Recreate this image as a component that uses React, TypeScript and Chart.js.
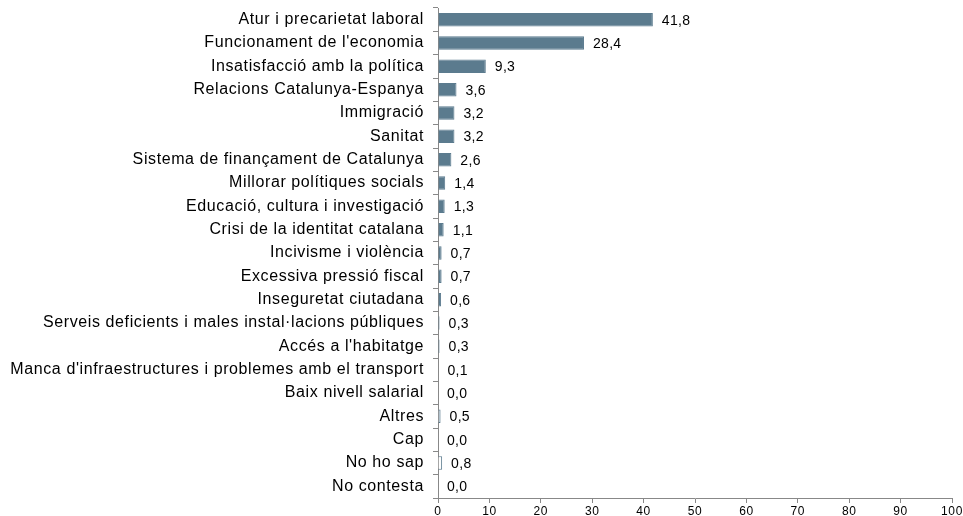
import React, { useEffect, useRef } from "react";
import { Chart, registerables } from "chart.js";

Chart.register(...registerables);

const categories = [
  "Atur i precarietat laboral",
  "Funcionament de l'economia",
  "Insatisfacció amb la política",
  "Relacions Catalunya-Espanya",
  "Immigració",
  "Sanitat",
  "Sistema de finançament de Catalunya",
  "Millorar polítiques socials",
  "Educació, cultura i investigació",
  "Crisi de la identitat catalana",
  "Incivisme i violència",
  "Excessiva pressió fiscal",
  "Inseguretat ciutadana",
  "Serveis deficients i males instal·lacions públiques",
  "Accés a l'habitatge",
  "Manca d'infraestructures i problemes amb el transport",
  "Baix nivell salarial",
  "Altres",
  "Cap",
  "No ho sap",
  "No contesta",
];

const values = [41.8, 28.4, 9.3, 3.6, 3.2, 3.2, 2.6, 1.4, 1.3, 1.1, 0.7, 0.7, 0.6, 0.3, 0.3, 0.1, 0.0, 0.5, 0.0, 0.8, 0.0];

const xTicks = [0, 10, 20, 30, 40, 50, 60, 70, 80, 90, 100];

const MAIN = "#5b7b8e";
const LIGHT = "#aebfcc";
const FONT = "'Liberation Sans', Arial, sans-serif";

const fillColors = categories.map((c) =>
  c === "Altres" ? LIGHT : c === "No ho sap" || c === "No contesta" || c === "Cap" ? "#ffffff" : MAIN
);

const spacing = {
  id: "spacing",
  beforeDraw(chart: any) {
    (chart.ctx as any).letterSpacing = "0.6px";
  },
};

const valueLabels = {
  id: "valueLabels",
  afterDatasetsDraw(chart: any) {
    const ctx = chart.ctx;
    const meta = chart.getDatasetMeta(0);
    ctx.save();
    ctx.letterSpacing = "0.3px";
    ctx.font = "14px " + FONT;
    ctx.fillStyle = "#000";
    ctx.textAlign = "left";
    ctx.textBaseline = "middle";
    meta.data.forEach((bar: any, i: number) => {
      const v = values[i];
      ctx.fillText(v.toFixed(1).replace(".", ","), bar.x + 9, bar.y + 1);
    });
    ctx.restore();
  },
};

export default function App() {
  const ref = useRef<HTMLCanvasElement>(null);
  useEffect(() => {
    document.body.style.margin = "0";
    const chart = new Chart(ref.current!, {
      type: "bar",
      data: {
        labels: categories,
        datasets: [
          {
            data: values,
            backgroundColor: fillColors,
            borderColor: MAIN,
            borderWidth: 1,
            barPercentage: 0.58,
            categoryPercentage: 1,
          },
        ],
      },
      options: {
        indexAxis: "y",
        animation: false,
        responsive: false,
        layout: { padding: { top: 8, right: 11, left: 0, bottom: 0 } },
        plugins: { legend: { display: false }, tooltip: { enabled: false } },
        scales: {
          x: {
            min: 0,
            max: 100,
            afterBuildTicks: (s: any) => {
              s.ticks = xTicks.map((v) => ({ value: v }));
            },
            afterFit: (s: any) => {
              s.height = 18;
              s.paddingLeft = 0;
              s.paddingRight = 0;
            },
            grid: {
              drawOnChartArea: false,
              tickLength: 5,
              color: "#888",
            },
            border: { color: "#888" },
            ticks: {
              color: "#000",
              font: { family: FONT, size: 12 },
              padding: 1,
              maxRotation: 0,
            },
          },
          y: {
            afterFit: (s: any) => {
              s.width = 438;
              s.paddingTop = 0;
              s.paddingBottom = 0;
            },
            grid: {
              drawOnChartArea: false,
              tickLength: 5,
              color: "#888",
              offset: true,
            },
            border: { color: "#888" },
            ticks: {
              color: "#000",
              font: { family: FONT, size: 16 },
              padding: 9,
              autoSkip: false,
            },
          },
        },
      },
      plugins: [spacing, valueLabels],
    });
    return () => chart.destroy();
  }, []);
  return (
    <div style={{ width: 963, height: 516 }}>
      <canvas ref={ref} width={963} height={516} style={{ width: 963, height: 516 }} />
    </div>
  );
}
